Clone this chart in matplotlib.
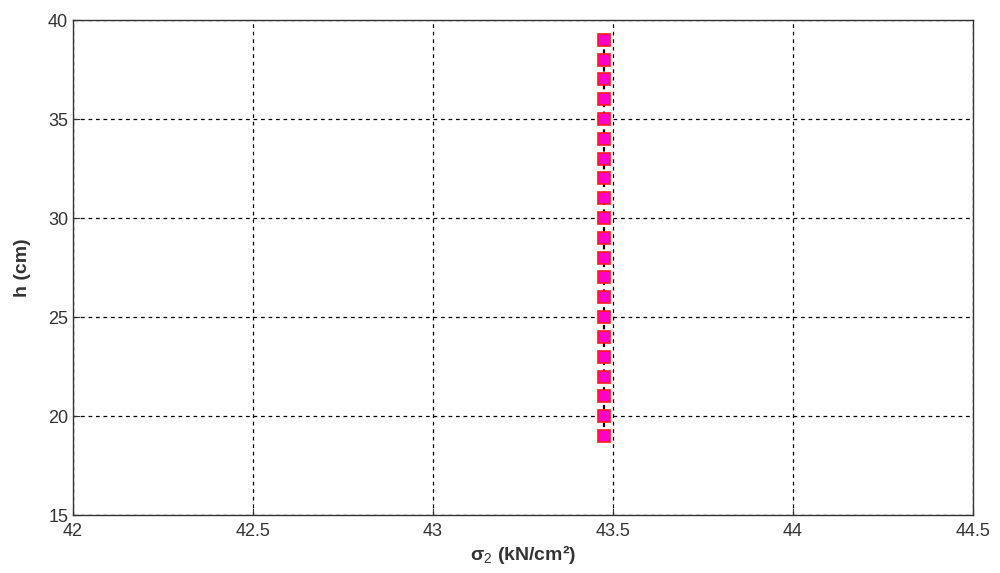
import matplotlib
matplotlib.use("Agg")
import matplotlib.pyplot as plt

# | ================= Data ================= |

sigma2 = [43.475] * 21
h_cm = [19, 20, 21, 22, 23, 24, 25, 26, 27, 28, 29,
        30, 31, 32, 33, 34, 35, 36, 37, 38, 39]

x_ticks = [42, 42.5, 43, 43.5, 44, 44.5]
y_ticks = [15, 20, 25, 30, 35, 40]

plt.rcParams["font.family"] = ["Liberation Sans", "DejaVu Sans"]
plt.rcParams["mathtext.fontset"] = "custom"
plt.rcParams["mathtext.rm"] = "Liberation Sans"
plt.rcParams["mathtext.bf"] = "Liberation Sans:bold"

# | ================= Plot ================= |

fig = plt.figure(figsize=(10, 5.73), dpi=100)
ax = fig.add_axes([0.073, 0.101, 0.900, 0.864])

ax.plot(sigma2, h_cm, color="black", linestyle=(0, (2, 2)), linewidth=1.6,
        marker="s", markersize=8, markerfacecolor="#ff00cc",
        markeredgecolor="#ff1a1a", markeredgewidth=1.2, zorder=3)

ax.set_xlim(42, 44.5)
ax.set_ylim(15, 40)
ax.set_xticks(x_ticks)
ax.set_xticklabels([f"{t:g}" for t in x_ticks])
ax.set_yticks(y_ticks)

ax.grid(True, color="black", linestyle=(0, (3, 3)), linewidth=0.9)
ax.set_axisbelow(True)
ax.tick_params(direction="in", length=5, labelsize=13, colors="#333333",
               top=False, right=False)
ax.tick_params(axis="x", pad=6)
for s in ax.spines.values():
    s.set_edgecolor("#333333")
    s.set_linewidth(1.0)

ax.set_xlabel(r"$\mathbf{\sigma}_2$ (kN/cm²)", fontsize=14, fontweight="bold",
              color="#333333", labelpad=2)
ax.set_ylabel("h (cm)", fontsize=14, fontweight="bold", color="#333333",
              labelpad=12)

fig.savefig("out.png", dpi=100, facecolor="white")
